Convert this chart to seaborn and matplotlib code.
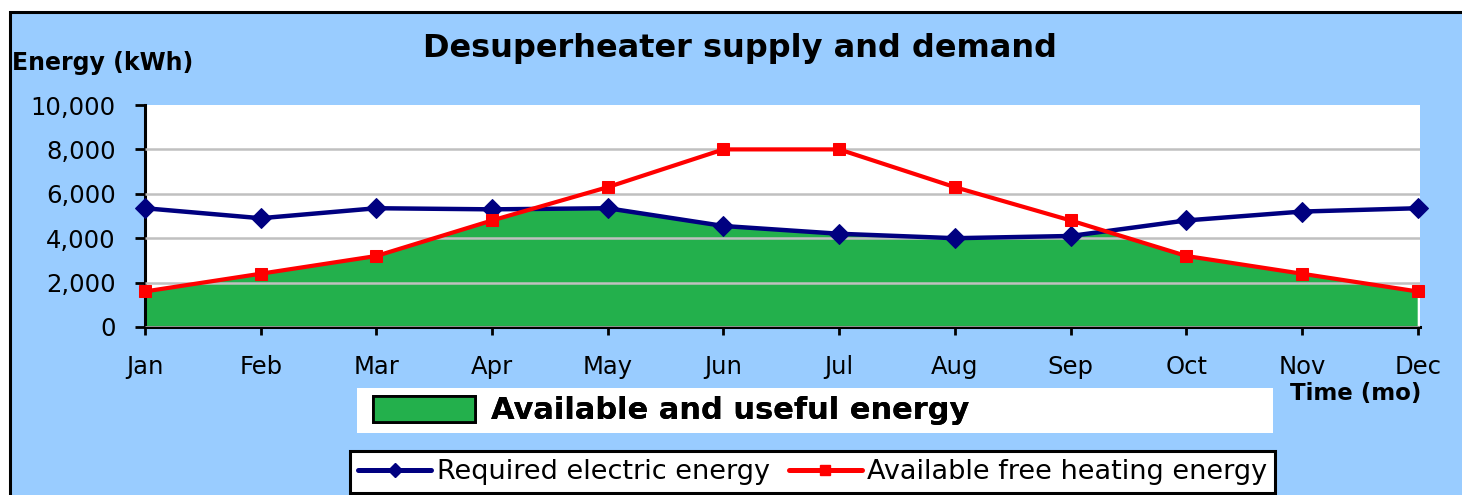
import numpy as np
import pandas as pd
import matplotlib
matplotlib.use('Agg')
import matplotlib.pyplot as plt
import seaborn as sns
from matplotlib.patches import Rectangle, Patch
from matplotlib.lines import Line2D

# Data (kWh per month)
months = ['Jan', 'Feb', 'Mar', 'Apr', 'May', 'Jun', 'Jul', 'Aug', 'Sep', 'Oct', 'Nov', 'Dec']
required = [5350, 4900, 5350, 5300, 5350, 4550, 4200, 4000, 4100, 4800, 5200, 5350]
available = [1600, 2400, 3200, 4800, 6300, 8000, 8000, 6300, 4800, 3200, 2400, 1600]
y_ticks = [0, 2000, 4000, 6000, 8000, 10000]

df = pd.DataFrame({'Month': months, 'Required': required, 'Available': available})

# Colours
BG = '#99CCFF'
NAVY = '#000080'
RED = '#FF0000'
GREEN = '#23B04C'

sns.set_style('white')
plt.rcParams['font.family'] = ['DejaVu Sans']
plt.rcParams['text.color'] = 'black'

W, H = 1462, 495
fig = plt.figure(figsize=(W / 100, H / 100), dpi=100)
fig.patch.set_facecolor('white')

# Light blue chart background with black border on top/left
fig.patches.append(Rectangle((9.5 / W, -0.1), 1.2, 1 - 11.5 / H + 0.1, transform=fig.transFigure,
                             facecolor=BG, edgecolor='black', linewidth=2.2, zorder=-2))

ax = fig.add_axes([145 / W, 1 - 327 / H, (1420 - 145) / W, (327 - 105) / H])
ax.set_facecolor('white')

x = np.arange(len(months))

# Green area = part under both lines (area under red, clipped by area under blue)
under_blue = ax.fill_between(x, 0, df['Required'], color='none', linewidth=0)
green = ax.fill_between(x, 0, df['Available'], color=GREEN, linewidth=0, zorder=1)
green.set_clip_path(under_blue.get_paths()[0], ax.transData)

sns.lineplot(data=df, x='Month', y='Required', ax=ax, color=NAVY, linewidth=3.2,
             marker='D', markersize=10, markeredgecolor=NAVY, zorder=3, clip_on=False, sort=False)
sns.lineplot(data=df, x='Month', y='Available', ax=ax, color=RED, linewidth=3.0,
             marker='s', markersize=9, markeredgecolor=RED, zorder=3, clip_on=False, sort=False)

ax.set_xlim(0, 11.02)
ax.set_ylim(0, 10000)
ax.set_xticks(x)
ax.set_xticklabels(months)
ax.set_yticks(y_ticks)
ax.set_yticklabels([f'{v:,}' for v in y_ticks])
ax.set_xlabel('')
ax.set_ylabel('')

# Grid on top of the green area, no line at the top edge
ax.set_axisbelow(False)
ax.grid(axis='y', color='#C0C0C0', linewidth=1.8)
ax.grid(axis='x', visible=False)
ax.get_ygridlines()[-1].set_visible(False)

for side in ['top', 'right']:
    ax.spines[side].set_visible(False)
for side in ['left', 'bottom']:
    ax.spines[side].set_color('black')
    ax.spines[side].set_linewidth(2.2)

ax.tick_params(axis='y', direction='out', length=7.2, width=2.0, pad=14, labelsize=17.5,
               colors='black', labelcolor='black')
ax.tick_params(axis='x', direction='out', length=6, width=2.0, pad=14, labelsize=17.5,
               colors='black', labelcolor='black')
ax.tick_params(axis='both', left=True, bottom=True)

# Titles and axis labels
fig.text(740 / W, 1 - 57 / H, 'Desuperheater supply and demand', ha='center', va='baseline',
         fontsize=23, fontweight='bold', color='black')
fig.text(12 / W, 1 - 70 / H, 'Energy (kWh)', ha='left', va='baseline', fontsize=17,
         fontweight='bold', color='black')
fig.text(1290 / W, 1 - 400 / H, 'Time (mo)', ha='left', va='baseline', fontsize=16.5,
         fontweight='bold', color='black')

# Legend for the green area (white box)
fig.patches.append(Rectangle((357 / W, 1 - 433 / H), 916 / W, 45 / H, transform=fig.transFigure,
                             facecolor='white', edgecolor='none', zorder=-1))
leg1 = fig.legend(handles=[Patch(facecolor=GREEN, edgecolor='black', linewidth=2)],
                  labels=['Available and useful energy'], loc='center left',
                  bbox_to_anchor=(373 / W, 1 - 410.5 / H), frameon=False,
                  prop={'size': 22, 'weight': 'bold'}, handlelength=3.35, handleheight=0.95,
                  handletextpad=0.5, borderpad=0, borderaxespad=0, labelcolor='black')

# Legend for the two lines
line_handles = [Line2D([], [], color=NAVY, linewidth=3.6, marker='D', markersize=7),
                Line2D([], [], color=RED, linewidth=3.6, marker='s', markersize=7)]
leg2 = fig.legend(handles=line_handles,
                  labels=['Required electric energy', 'Available free heating energy'],
                  loc='upper left', bbox_to_anchor=(350 / W, 1 - 451 / H), ncol=2,
                  frameon=True, fancybox=False, facecolor='white', edgecolor='black', framealpha=1,
                  prop={'size': 19.5}, handlelength=2.7, handletextpad=0.2, columnspacing=0.7,
                  borderpad=0.3, borderaxespad=0, labelcolor='black')
leg2.get_frame().set_linewidth(2.2)
fig.add_artist(leg1)

fig.savefig('out.png', dpi=100, facecolor=fig.get_facecolor())
